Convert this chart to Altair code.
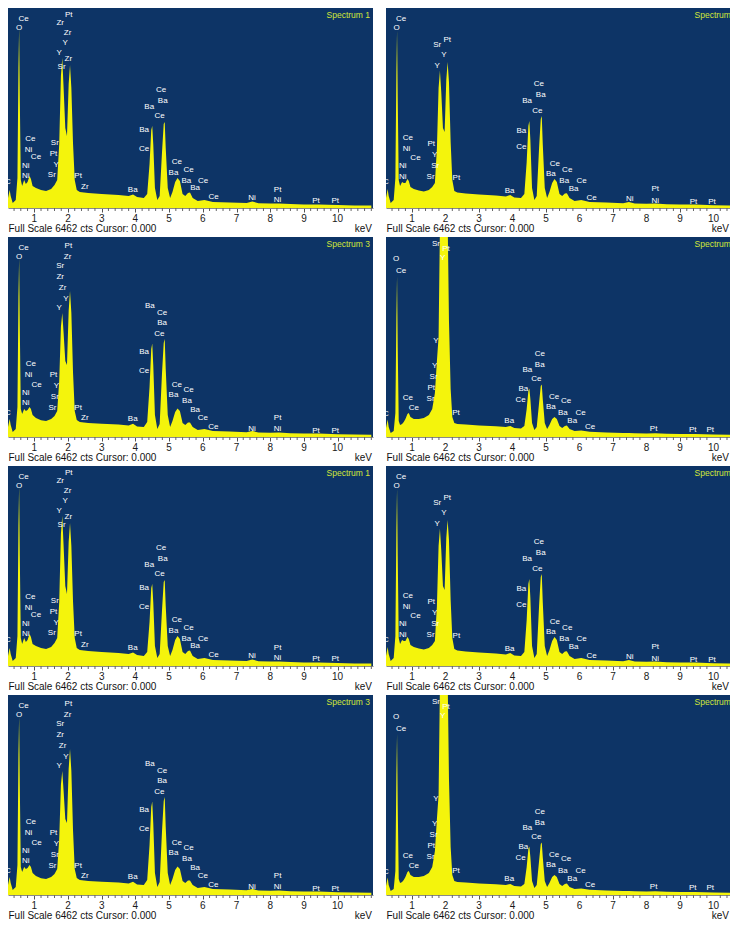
import altair as alt
import pandas as pd

# ---------------- data ----------------
kev = [0.22, 0.27, 0.30, 0.36, 0.45, 0.50, 0.53, 0.55, 0.57, 0.60,
       0.64, 0.70, 0.75, 0.80, 0.86, 0.90, 0.95, 1.05, 1.20, 1.35,
       1.50, 1.60, 1.68, 1.74, 1.79, 1.83, 1.87, 1.92, 1.97, 2.02,
       2.06, 2.10, 2.15, 2.20, 2.26, 2.35, 2.60, 3.00, 3.50, 3.80,
       3.93, 4.05, 4.25, 4.35, 4.42, 4.47, 4.50, 4.53, 4.58, 4.65,
       4.72, 4.79, 4.84, 4.87, 4.90, 4.96, 5.03, 5.10, 5.18, 5.25,
       5.32, 5.40, 5.48, 5.56, 5.62, 5.70, 5.85, 6.05, 6.30, 6.80,
       7.30, 7.47, 7.65, 8.00, 8.26, 8.60, 9.00, 9.44, 10.00, 10.50, 11.00]

# counts in % of the full-scale height
spec1 = [5, 9, 6, 2.5, 4, 15, 70, 90, 55, 14,
         11, 14, 12, 13, 16, 14.5, 11, 10, 9, 8.5,
         9.5, 11.5, 14, 32, 66, 75, 60, 40, 36, 62,
         71.5, 60, 32, 14, 9, 8, 7.5, 7, 6.5, 6,
         6.8, 5.5, 5, 7, 22, 39, 41, 32, 10, 4,
         6, 28, 42, 43, 30, 10, 5, 8, 13, 15,
         13.5, 7, 6, 7.5, 7.8, 5, 3.5, 4, 3, 2.8,
         2.5, 3.2, 2.4, 2.2, 2.3, 2, 1.8, 1.8, 1.5, 1.3, 1.2]
spec2 = [5, 9.5, 6, 2.5, 4, 15, 68, 88.6, 55, 14,
         11, 13, 12.5, 12.5, 14.5, 13.5, 10.5, 9.5, 8.7, 8.3,
         9, 10.5, 12.5, 30, 60, 68.6, 58, 40, 38, 64,
         73, 63, 33, 14, 8.5, 7.8, 7.3, 6.8, 6.3, 5.8,
         6.5, 5.3, 5, 7, 23, 41, 43.5, 34, 10, 4,
         6, 30, 44.5, 46, 32, 10, 5, 8, 12.5, 14.5,
         13, 7, 6, 7.2, 7.4, 5, 3.5, 4, 3, 2.7,
         2.4, 3, 2.3, 2.1, 2.2, 1.9, 1.7, 1.7, 1.4, 1.2, 1.1]
spec3 = [5, 9, 6, 2.5, 4, 15, 70, 89.4, 55, 14,
         11.5, 14, 13, 13.5, 15, 14, 11, 9.5, 8.4, 8,
         9, 10.5, 13, 28, 55, 62, 52, 38, 36, 63,
         73, 62, 32, 13, 8.5, 7.5, 7, 6.6, 6.2, 5.7,
         6.6, 5.2, 5, 7.5, 25, 44, 46.7, 36, 11, 4,
         6.5, 32, 47, 49, 34, 11, 5, 8, 12.5, 14.3,
         13, 7, 6, 7.2, 7.3, 5, 3.5, 4, 3, 2.7,
         2.4, 3, 2.3, 2.1, 2.2, 1.9, 1.7, 1.7, 1.4, 1.2, 1.1]
spec4 = [4.5, 8.8, 5, 2, 3, 12, 60, 80.5, 45, 8,
         6, 6.5, 7.5, 9, 11.5, 12, 10, 9, 9, 9.5,
         11, 14, 22, 38, 50, 105, 120, 125, 128, 125,
         110, 58, 24, 10, 7, 6.5, 6.2, 5.8, 5.4, 5,
         5.5, 4.5, 4.2, 5.5, 14, 23, 24.3, 19, 7, 3.5,
         5, 17, 25.5, 26.3, 19, 7, 4, 6, 9, 10,
         9, 5.5, 4.5, 5.5, 5.7, 4, 3, 3.2, 2.6, 2.3,
         2, 2, 1.9, 1.8, 1.9, 1.6, 1.5, 1.5, 1.3, 1.1, 1]

# element labels: text, keV, height
lab1_t = ["C", "Ce", "O", "Zr", "Pt", "Zr", "Y", "Y", "Zr", "Sr",
          "Ce", "Ni", "Ce", "Ni", "Ni", "Sr", "Pt", "Y", "Sr", "Pt", "Zr", "Ba",
          "Ce", "Ba", "Ba", "Ce", "Ba", "Ce", "Ce", "Ba", "Ce", "Ba", "Ce", "Ba", "Ce",
          "Ni", "Pt", "Ni", "Pt", "Pt"]
lab1_x = [0.22, 0.68, 0.55, 1.77, 2.02, 1.99, 1.92, 1.74, 2.01, 1.81,
          0.88, 0.83, 1.05, 0.75, 0.75, 1.61, 1.57, 1.65, 1.52, 2.30, 2.50, 3.92,
          4.76, 4.81, 4.41, 4.72, 4.26, 4.26, 5.23, 5.13, 5.58, 5.51, 6.01, 5.77, 6.32,
          7.46, 8.22, 8.22, 9.36, 9.93]
lab1_y = [12.8, 94.5, 90, 92.7, 96.5, 87.4, 82.4, 77.7, 74.4, 70.7,
          34.4, 29, 25.3, 21, 15.8, 32.4, 27, 21.6, 16.3, 15.8, 10.3, 8.8,
          59, 53.7, 50.7, 45.8, 38.8, 29.6, 22.8, 17.5, 19.1, 13.6, 13.6, 9.8, 5.3,
          5.0, 9.2, 4.2, 3.7, 3.7]

lab2_t = ["C", "Ce", "O", "Pt", "Sr", "Y", "Y",
          "Ce", "Ni", "Ce", "Ni", "Ni", "Pt", "Y", "Sr", "Sr", "Pt", "Ba",
          "Ce", "Ba", "Ba", "Ce", "Ba", "Ce", "Ce", "Ce", "Ba", "Ba", "Ce", "Ba", "Ce",
          "Ni", "Pt", "Ni", "Pt", "Pt"]
lab2_x = [0.22, 0.67, 0.54, 2.05, 1.75, 1.95, 1.75,
          0.87, 0.83, 1.10, 0.72, 0.72, 1.57, 1.67, 1.69, 1.55, 2.32, 3.91,
          4.78, 4.84, 4.43, 4.74, 4.26, 4.26, 5.26, 5.63, 5.14, 5.54, 6.06, 5.82, 6.36,
          7.50, 8.26, 8.26, 9.40, 9.95]
lab2_y = [12.9, 94.5, 89.8, 84, 81.4, 76.4, 70.9,
          35.1, 29.6, 25, 21.2, 15.4, 32.1, 26.6, 20.9, 15.4, 15, 8.7,
          62.2, 56.4, 53.5, 48.3, 38.5, 30.4, 22, 19.2, 17, 13.7, 13.4, 9.5, 5,
          4.5, 9.5, 3.7, 3.2, 3.2]

lab3_t = ["C", "Ce", "O", "Pt", "Zr", "Sr", "Zr", "Zr", "Y", "Y",
          "Ce", "Ni", "Ce", "Ni", "Ni", "Pt", "Y", "Sr", "Sr", "Pt", "Zr", "Ba",
          "Ba", "Ce", "Ba", "Ce", "Ba", "Ce", "Ce", "Ce", "Ba", "Ba", "Ba", "Ce", "Ce",
          "Ni", "Pt", "Ni", "Pt", "Pt"]
lab3_x = [0.22, 0.68, 0.55, 2.01, 1.99, 1.77, 1.77, 1.84, 1.94, 1.74,
          0.90, 0.83, 1.07, 0.75, 0.75, 1.57, 1.66, 1.61, 1.54, 2.30, 2.50, 3.92,
          4.43, 4.79, 4.79, 4.71, 4.26, 4.26, 5.23, 5.58, 5.13, 5.53, 5.77, 6.00, 6.31,
          7.46, 8.22, 8.22, 9.36, 9.93]
lab3_y = [11.8, 94.4, 89.9, 95.3, 90.2, 85.7, 80.1, 74.5, 69.1, 64.6,
          36.3, 30.9, 25.8, 21.9, 16.9, 30.9, 25.3, 19.9, 14.7, 14.7, 9.6, 8.8,
          65.3, 62.1, 56.8, 51.4, 42.7, 33.2, 26.1, 23.3, 21.1, 18, 13.5, 9.3, 5.1,
          4.2, 9.3, 4.2, 2.9, 2.9]

lab4_t = ["C", "O", "Ce", "Sr", "Pt", "Y", "Y", "Y", "Sr", "Pt", "Sr",
          "Ce", "Ce", "Pt", "Ba",
          "Ce", "Ba", "Ba", "Ce", "Ba", "Ce", "Ce", "Ce", "Ba", "Ba", "Ce", "Ba", "Ce",
          "Pt", "Pt", "Pt"]
lab4_x = [0.22, 0.52, 0.67, 1.71, 2.01, 1.91, 1.71, 1.67, 1.64, 1.57, 1.55,
          0.87, 1.05, 2.31, 3.90,
          4.81, 4.81, 4.44, 4.71, 4.32, 4.24, 5.24, 5.60, 5.14, 5.50, 6.03, 5.78, 6.31,
          8.21, 9.38, 9.90]
lab4_y = [11.3, 88.8, 83, 96.7, 93.8, 89.3, 48, 35.5, 30, 24.3, 19.2,
          19.7, 14.7, 12.2, 8,
          41.3, 35.8, 33.3, 28.8, 24.2, 18.5, 20.2, 18, 15, 12.2, 11.8, 8, 5,
          3.8, 3.3, 3.3]

titles = ["Spectrum 1", "Spectrum 2", "Spectrum 3", "Spectrum 4"]

major_ticks = [1, 2, 3, 4, 5, 6, 7, 8, 9, 10]
major_labels = ["1", "2", "3", "4", "5", "6", "7", "8", "9", "10"]
minor_left = [0.4, 0.6, 0.8, 1.2, 1.4, 1.6, 1.8, 2.2, 2.4, 2.6, 2.8,
              3.2, 3.4, 3.6, 3.8, 4.2, 4.4, 4.6, 4.8, 5.2, 5.4, 5.6, 5.8,
              6.2, 6.4, 6.6, 6.8, 7.2, 7.4, 7.6, 7.8, 8.2, 8.4, 8.6, 8.8,
              9.2, 9.4, 9.6, 9.8, 10.2, 10.4, 10.6, 10.8, 11]
minor_right = [0.4, 0.6, 0.8, 1.2, 1.4, 1.6, 1.8, 2.2, 2.4, 2.6, 2.8,
               3.2, 3.4, 3.6, 3.8, 4.2, 4.4, 4.6, 4.8, 5.2, 5.4, 5.6, 5.8,
               6.2, 6.4, 6.6, 6.8, 7.2, 7.4, 7.6, 7.8, 8.2, 8.4, 8.6, 8.8,
               9.2, 9.4, 9.6, 9.8, 10.2, 10.4]

footer = "Full Scale 6462 cts Cursor: 0.000"

# ---------------- styling ----------------
NAVY = "#0d3466"
YELLOW = "#f4f40c"
TITLE_COL = "#d2e639"
FONT = "Liberation Sans"
H = 200


def panel(counts, lt, lx, ly, title, xmax, width, minor, title_dx):
    xscale = alt.Scale(domain=[0.22, xmax], nice=False, zero=False)
    yscale = alt.Scale(domain=[0, 100], nice=False, zero=True)
    xaxis = alt.Axis(
        values=major_ticks, labels=False, grid=False,
        tickSize=4, tickColor="#555555", domainColor="#8a8a8a",
        title=footer, titleAnchor="start", titleAlign="left", titleFontSize=10,
        titleFontWeight="normal", titleColor="#111111", titlePadding=11, titleFont=FONT,
    )
    df = pd.DataFrame({"keV": kev, "cts": counts})
    area = alt.Chart(df).mark_area(color=YELLOW, clip=True, interpolate="linear").encode(
        x=alt.X("keV:Q", scale=xscale, axis=xaxis),
        y=alt.Y("cts:Q", scale=yscale, axis=None),
    )
    mdf = pd.DataFrame({"keV": minor})
    minor_ticks = alt.Chart(mdf).mark_rule(color="#666666", strokeWidth=1).encode(
        x=alt.X("keV:Q", scale=xscale),
        y=alt.value(H),
        y2=alt.value(H + 3),
    )
    tldf = pd.DataFrame({"keV": major_ticks, "t": major_labels})
    tick_labels = alt.Chart(tldf).mark_text(
        color="#1a1a1a", fontSize=10, font=FONT, baseline="middle"
    ).encode(x=alt.X("keV:Q", scale=xscale), y=alt.value(H + 11), text="t:N")
    ldf = pd.DataFrame({"t": lt, "keV": lx, "cts": ly})
    labels = alt.Chart(ldf).mark_text(
        color="white", fontSize=8, font=FONT, clip=True, baseline="middle"
    ).encode(x=alt.X("keV:Q", scale=xscale), y=alt.Y("cts:Q", scale=yscale), text="t:N")
    tdf = pd.DataFrame({"t": [title]})
    ttl = alt.Chart(tdf).mark_text(
        color=TITLE_COL, fontSize=8.5, font=FONT, align="right", baseline="top", clip=True
    ).encode(x=alt.value(width + title_dx), y=alt.value(3), text="t:N")
    kdf = pd.DataFrame({"t": ["keV"]})
    unit = alt.Chart(kdf).mark_text(
        color="#111111", fontSize=10, font=FONT, align="right", baseline="middle"
    ).encode(x=alt.value(width - 1), y=alt.value(H + 21), text="t:N")
    return alt.layer(area, minor_ticks, tick_labels, labels, ttl, unit).properties(
        width=width, height=H)


WL, WR = 365, 344
XL, XR = 11.05, 10.49

rows = [
    alt.hconcat(panel(spec1, lab1_t, lab1_x, lab1_y, titles[0], XL, WL, minor_left, -3),
                panel(spec2, lab2_t, lab2_x, lab2_y, titles[1], XR, WR, minor_right, 8),
                spacing=13),
    alt.hconcat(panel(spec3, lab3_t, lab3_x, lab3_y, titles[2], XL, WL, minor_left, -3),
                panel(spec4, lab4_t, lab4_x, lab4_y, titles[3], XR, WR, minor_right, 8),
                spacing=13),
    alt.hconcat(panel(spec1, lab1_t, lab1_x, lab1_y, titles[0], XL, WL, minor_left, -3),
                panel(spec2, lab2_t, lab2_x, lab2_y, titles[1], XR, WR, minor_right, 8),
                spacing=13),
    alt.hconcat(panel(spec3, lab3_t, lab3_x, lab3_y, titles[2], XL, WL, minor_left, -3),
                panel(spec4, lab4_t, lab4_x, lab4_y, titles[3], XR, WR, minor_right, 8),
                spacing=13),
]

chart = alt.vconcat(*rows, spacing=3).properties(
    padding=0, background="white"
).configure_view(fill=NAVY, strokeWidth=0)

chart.save("out.html", embed_options={"renderer": "svg", "actions": False})
